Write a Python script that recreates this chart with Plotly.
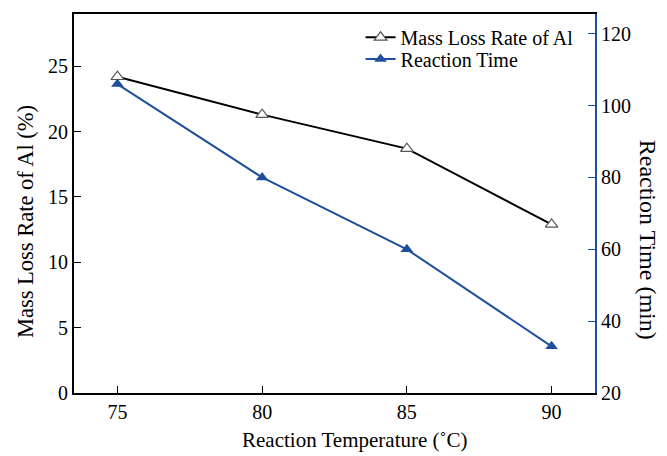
import plotly.graph_objects as go

temperature = [75, 80, 85, 90]
mass_loss = [24.2, 21.3, 18.7, 12.9]
reaction_time = [106, 80, 60, 33]
x_ticks = [75, 80, 85, 90]
left_ticks = [0, 5, 10, 15, 20, 25]
right_ticks = [20, 40, 60, 80, 100, 120]

BLUE = "#1f4e9c"
FONT = "Liberation Serif"

fig = go.Figure()
fig.add_trace(go.Scatter(
    x=temperature, y=mass_loss, name="Mass Loss Rate of Al",
    mode="lines+markers", legend="legend",
    line=dict(color="black", width=2),
    marker=dict(symbol="triangle-up", size=11, color="white",
                line=dict(color="#555555", width=1.2)),
))
fig.add_trace(go.Scatter(
    x=temperature, y=reaction_time, name="Reaction Time", yaxis="y2",
    mode="lines+markers", legend="legend2",
    line=dict(color=BLUE, width=2),
    marker=dict(symbol="triangle-up", size=11, color=BLUE),
))

legend_style = dict(xanchor="left", yanchor="top", bgcolor="rgba(0,0,0,0)",
                    font=dict(size=20, family=FONT), itemwidth=30)

fig.update_layout(
    width=667, height=456,
    margin=dict(l=74, r=72, t=14, b=63, autoexpand=False),
    paper_bgcolor="white", plot_bgcolor="white",
    font=dict(family=FONT, size=20, color="black"),
    showlegend=True,
    legend=dict(x=0.55, y=0.99, **legend_style),
    legend2=dict(x=0.55, y=0.933, **legend_style),
    xaxis=dict(
        range=[73.5, 91.5], tickvals=x_ticks, ticks="inside", ticklen=7,
        tickcolor="black", showline=True, linecolor="black", linewidth=2,
        mirror=True, showgrid=False, zeroline=False, automargin=False,
        tickfont=dict(size=20, family=FONT),
    ),
    yaxis=dict(
        range=[0, 29], tickvals=left_ticks, ticks="inside", ticklen=7,
        tickcolor="black", showline=True, linecolor="black", linewidth=2,
        showgrid=False, zeroline=False, automargin=False,
        tickfont=dict(size=20, family=FONT),
    ),
    yaxis2=dict(
        range=[20, 125.5], tickvals=right_ticks, ticks="inside", ticklen=7,
        tickcolor=BLUE, showline=True, linecolor=BLUE, linewidth=2,
        overlaying="y", side="right", anchor="x", automargin=False,
        showgrid=False, zeroline=False,
        tickfont=dict(size=20, family=FONT, color="black"),
    ),
    annotations=[
        dict(text="Reaction Temperature (˚C)", xref="paper", yref="paper",
             x=0.539, y=-0.124, xanchor="center", yanchor="middle",
             showarrow=False, font=dict(size=21, family=FONT, color="black")),
        dict(text="Mass Loss Rate of Al (%)", textangle=-90,
             xref="paper", yref="paper", x=-0.094, y=0.451,
             xanchor="center", yanchor="middle", showarrow=False,
             font=dict(size=22.5, family=FONT, color="black")),
        dict(text="Reaction Time (min)", textangle=90,
             xref="paper", yref="paper", x=1.102, y=0.404,
             xanchor="center", yanchor="middle", showarrow=False,
             font=dict(size=24, family=FONT, color="black")),
    ],
)

fig.write_html("out.html")
